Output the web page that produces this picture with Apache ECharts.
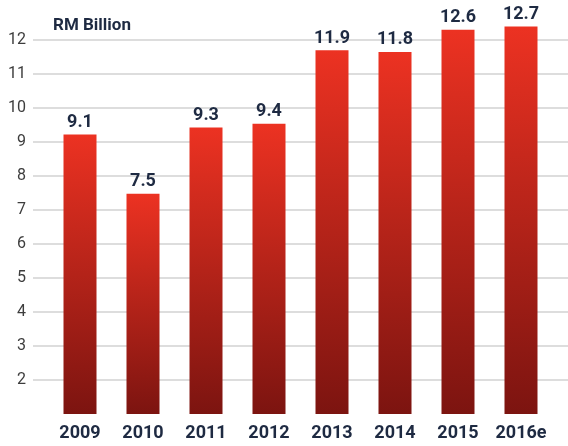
<!DOCTYPE html>
<html>
<head>
<meta charset="utf-8">
<script src="https://cdn.jsdelivr.net/npm/echarts@6/dist/echarts.min.js"></script>
<style>
html,body{margin:0;padding:0;background:#fff;}
#c{width:568px;height:446px;}
</style>
</head>
<body>
<div id="c"></div>
<script>
var categories = ['2009', '2010', '2011', '2012', '2013', '2014', '2015', '2016e'];
var barValues = [9.22, 7.48, 9.43, 9.54, 11.7, 11.65, 12.3, 12.4];
var valueLabels = ['9.1', '7.5', '9.3', '9.4', '11.9', '11.8', '12.6', '12.7'];
var yTicks = [2, 3, 4, 5, 6, 7, 8, 9, 10, 11, 12];

var chart = echarts.init(document.getElementById('c'));
var navy = '#1e2a42';
var yAxisBase = { type: 'value', min: 1, max: 13, interval: 1 };

chart.setOption({
  animation: false,
  title: {
    text: 'RM Billion', left: 48, top: 12,
    textStyle: { fontFamily: 'Roboto', fontWeight: 'bold', fontSize: 17, color: navy }
  },
  grid: [
    { left: 33, right: 0, top: 6, bottom: 32 },
    { left: 48.5, width: 504, top: 6, bottom: 32 }
  ],
  xAxis: [
    { type: 'category', gridIndex: 0, data: categories, show: false },
    {
      type: 'category', gridIndex: 1, data: categories,
      axisLine: { show: false }, axisTick: { show: false },
      axisLabel: { interval: 0, hideOverlap: false, margin: 10, fontFamily: 'Roboto', fontWeight: 'bold', fontSize: 18, color: navy }
    }
  ],
  yAxis: [
    Object.assign({}, yAxisBase, {
      gridIndex: 0,
      axisLine: { show: false }, axisTick: { show: false },
      axisLabel: {
        margin: 7, fontFamily: 'Roboto', fontSize: 16, color: '#3d3d3d',
        formatter: function (v) { return yTicks.indexOf(v) >= 0 ? String(v) : ''; }
      },
      splitLine: { show: true, showMinLine: false, showMaxLine: false, lineStyle: { color: '#d2d2d2', width: 1.5 } }
    }),
    Object.assign({}, yAxisBase, { gridIndex: 1, show: false, splitLine: { show: false } })
  ],
  series: [{
    type: 'bar', xAxisIndex: 1, yAxisIndex: 1,
    data: barValues, barWidth: 33,
    itemStyle: {
      color: new echarts.graphic.LinearGradient(0, 0, 0, 1, [
        { offset: 0, color: '#ec3222' },
        { offset: 1, color: '#7c1410' }
      ])
    },
    label: {
      show: true, position: 'top', distance: 3,
      fontFamily: 'Roboto', fontWeight: 'bold', fontSize: 18, color: navy,
      formatter: function (p) { return valueLabels[p.dataIndex]; }
    }
  }]
});
</script>
</body>
</html>
